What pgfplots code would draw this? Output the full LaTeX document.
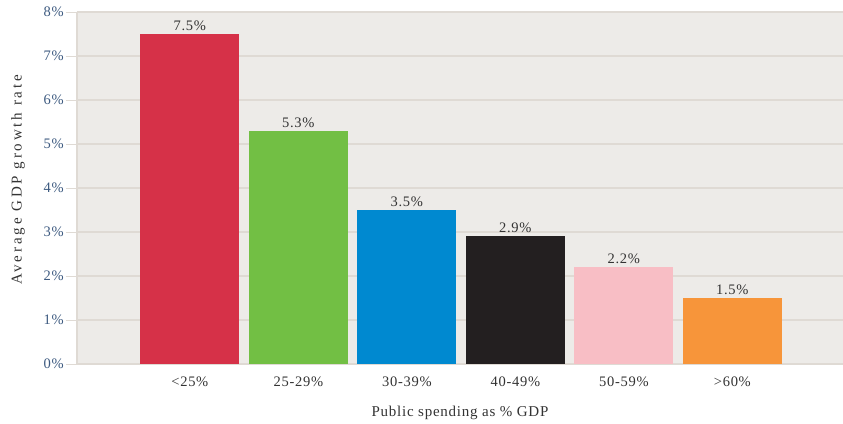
\documentclass[border=0pt]{standalone}
\usepackage{fontspec}
\setmainfont{Liberation Serif}[LetterSpace=5]
\usepackage{pgfplots}
\pgfplotsset{compat=1.18}
\definecolor{bg}{HTML}{EDEBE8}
\definecolor{gridc}{HTML}{DFDAD4}
\definecolor{tickc}{HTML}{3D5A80}
\definecolor{txt}{HTML}{333333}
\definecolor{cA}{HTML}{D63148}
\definecolor{cB}{HTML}{72BF44}
\definecolor{cC}{HTML}{0089D0}
\definecolor{cD}{HTML}{231F20}
\definecolor{cE}{HTML}{F8BEC5}
\definecolor{cF}{HTML}{F7953A}
\begin{document}
\begin{tikzpicture}
\begin{axis}[
  at={(77pt,59pt)}, anchor=south west,
  scale only axis, width=766pt, height=352pt,
  xmin=-1.04, xmax=6.02, ymin=0, ymax=8,
  axis background/.style={fill=bg},
  axis x line*=bottom, axis y line*=left,
  axis line style={draw=gridc, line width=2.5pt},
  ymajorgrids, major grid style={draw=gridc, line width=2pt},
  ytick={0,...,8},
  yticklabels={0\%,1\%,2\%,3\%,4\%,5\%,6\%,7\%,8\%},
  yticklabel style={color=tickc, font=\fontsize{14.5}{16}\selectfont, inner sep=2pt},
  ytick style={draw=gridc, line width=1pt},
  tick align=outside, major tick length=11pt,
  xtick={0,...,5},
  xticklabels={<25\%,25-29\%,30-39\%,40-49\%,50-59\%,>60\%},
  xticklabel style={color=txt, font=\fontsize{14.5}{16}\selectfont, yshift=2pt},
  xtick style={draw=none},
  every axis y label/.style={at={(axis description cs:-0.077,0.523)}, anchor=center, rotate=90, color=txt, font=\fontsize{15}{17}\selectfont\addfontfeature{LetterSpace=19}},
  every axis x label/.style={at={(axis description cs:0.5,0)}, anchor=center, yshift=-49pt, color=txt, font=\fontsize{15}{17}\selectfont\addfontfeature{LetterSpace=5}},
  ylabel={Average GDP growth rate},
  xlabel={Public spending as \% GDP},
  ybar, bar width=99pt, bar shift=0pt,
  clip=false,
  every node near coord/.style={color=txt, font=\fontsize{14.5}{16}\selectfont, anchor=south, yshift=0pt},
]
\addplot[fill=cA, draw=none, nodes near coords={7.5\%}] coordinates {(0,7.5)};
\addplot[fill=cB, draw=none, nodes near coords={5.3\%}] coordinates {(1,5.3)};
\addplot[fill=cC, draw=none, nodes near coords={3.5\%}] coordinates {(2,3.5)};
\addplot[fill=cD, draw=none, nodes near coords={2.9\%}] coordinates {(3,2.9)};
\addplot[fill=cE, draw=none, nodes near coords={2.2\%}] coordinates {(4,2.2)};
\addplot[fill=cF, draw=none, nodes near coords={1.5\%}] coordinates {(5,1.5)};
\end{axis}
\pgfresetboundingbox
\path (0,0) rectangle (843pt,423pt);
\end{tikzpicture}
\end{document}
